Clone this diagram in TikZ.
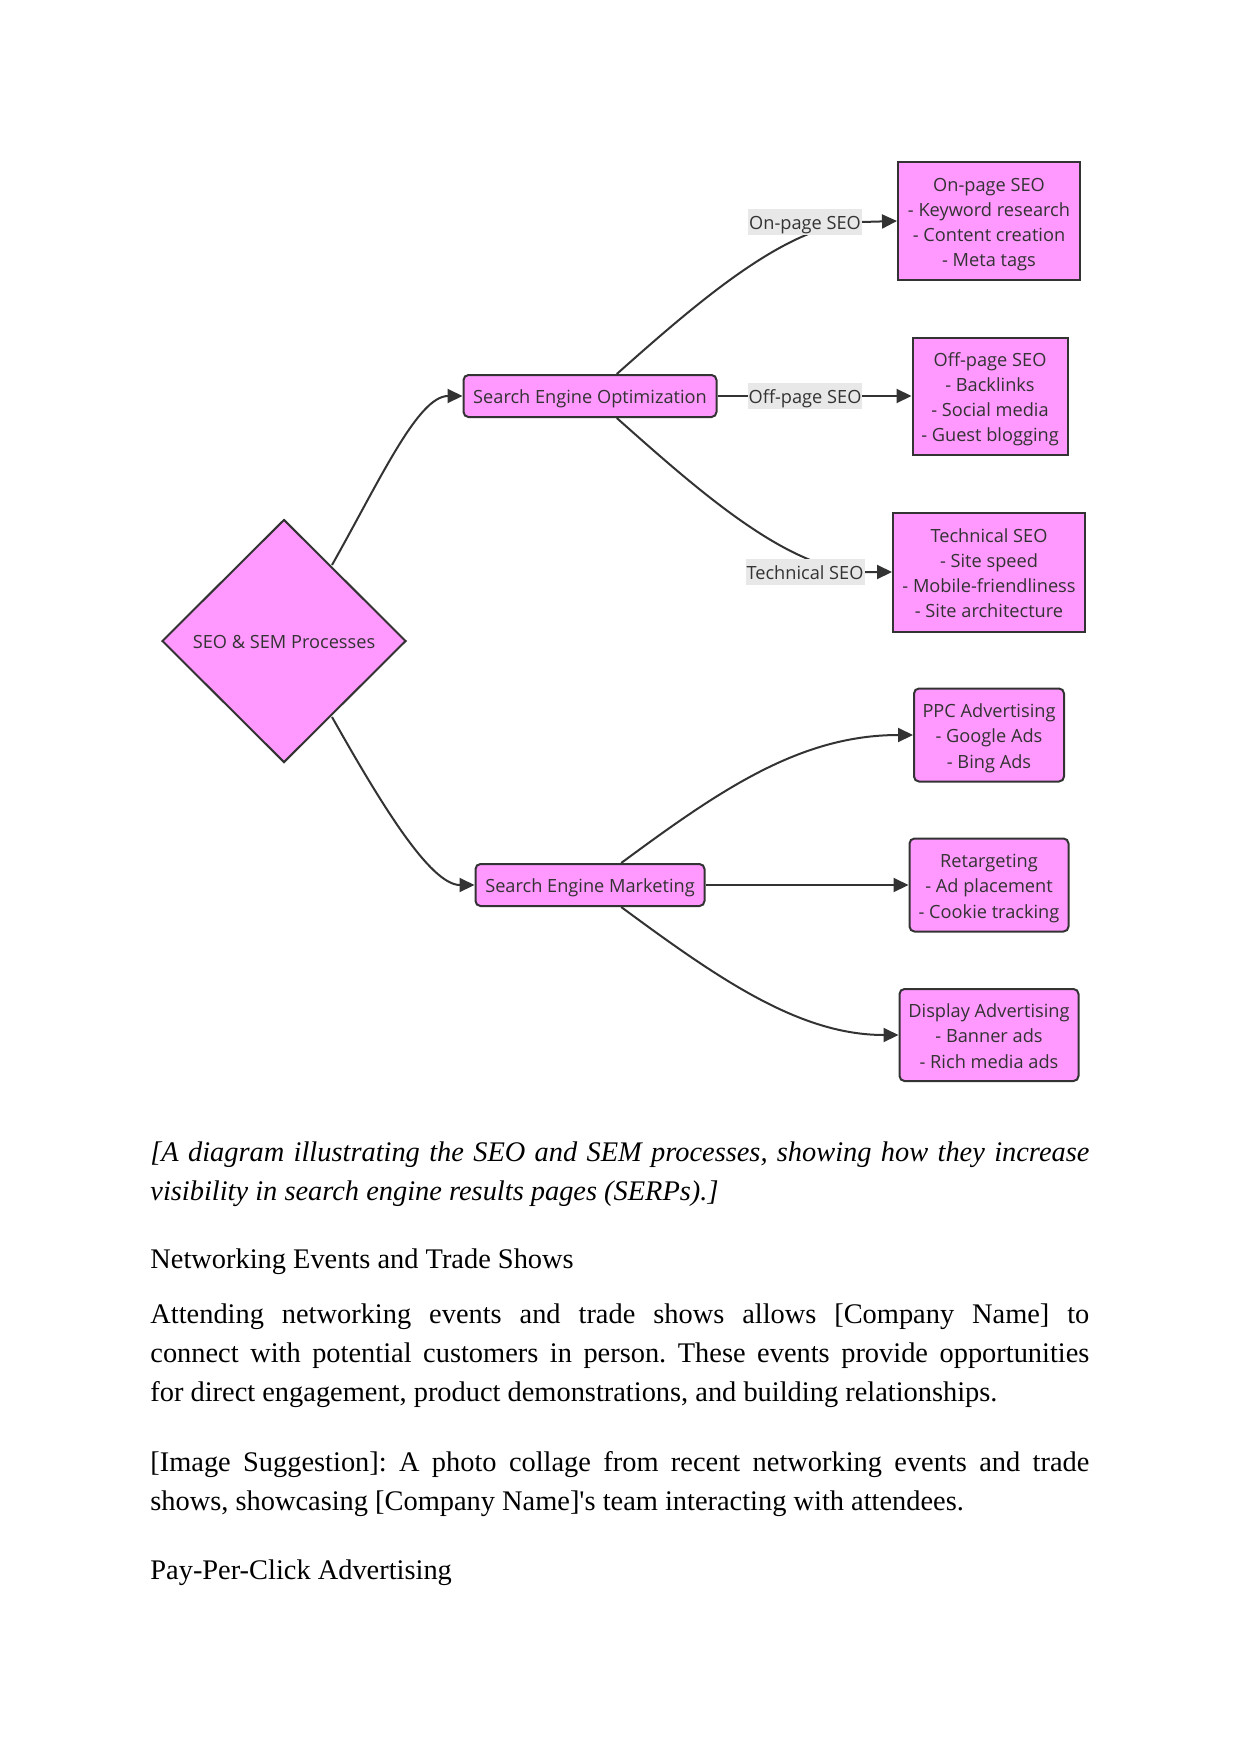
\documentclass[tikz,border=0pt]{standalone}
\usepackage{fontspec}
\setmainfont{Liberation Serif}
\newfontfamily\diafont{Open Sans}
\usetikzlibrary{shapes.geometric,arrows.meta,calc}
\definecolor{nodefill}{HTML}{FF99FF}
\definecolor{nodeline}{HTML}{333333}
\definecolor{labelbg}{HTML}{E8E8E8}
\pgfdeclarelayer{edges}
\pgfsetlayers{edges,main}
\frenchspacing
\newcommand{\jline}[1]{\makebox[469.5pt][s]{#1}}
\newcommand{\bt}[1]{\raisebox{-1.4pt}[\height][\depth]{\begin{tabular}{@{}c@{}}#1\end{tabular}}}
\begin{document}
\begin{tikzpicture}[x=0.5pt,y=-0.5pt,
  box/.style={draw=nodeline, line width=1pt, fill=nodefill, text=nodeline,
    font=\diafont\fontsize{9.1}{12.6}\selectfont, inner sep=0pt},
  rbox/.style={box, rounded corners=2.5pt},
  edge/.style={draw=nodeline, line width=1pt, -{Triangle[length=7.5pt,width=7pt]}},
  elabel/.style={fill=labelbg, text=nodeline, font=\diafont\fontsize{9.1}{12.6}\selectfont,
    inner xsep=0.5pt, inner ysep=0pt, minimum height=11.2pt},
  para/.style={anchor=base west, align=left, inner sep=0pt, text=black,
    font=\fontsize{14.2}{19.3}\selectfont}]
\useasboundingbox (0,0) rectangle (1242,1755);

% central diamond
\node[box, diamond, minimum width=122pt, minimum height=121.5pt] (root) at (284,641) {\bt{SEO \& SEM Processes}};

% second level
\node[rbox, minimum width=126.5pt, minimum height=21pt] (seo) at (590,396) {\bt{Search Engine Optimization}};
\node[rbox, minimum width=114.5pt, minimum height=21pt] (sem) at (590,885) {\bt{Search Engine Marketing}};

% SEO leaves
\node[box, minimum width=91pt, minimum height=59pt] (onpage) at (989,221) {\bt{On-page SEO\\- Keyword research\\- Content creation\\- Meta tags}};
\node[box, minimum width=77.5pt, minimum height=58.5pt] (offpage) at (990,396) {\bt{Off-page SEO\\- Backlinks\\- Social media\\- Guest blogging}};
\node[box, minimum width=96pt, minimum height=59.5pt] (tech) at (989,572) {\bt{Technical SEO\\- Site speed\\- Mobile-friendliness\\- Site architecture}};

% SEM leaves
\node[rbox, minimum width=75pt, minimum height=46.5pt] (ppc) at (989,735) {\bt{PPC Advertising\\- Google Ads\\- Bing Ads}};
\node[rbox, minimum width=79.5pt, minimum height=46.5pt] (retarget) at (989,885) {\bt{Retargeting\\- Ad placement\\- Cookie tracking}};
\node[rbox, minimum width=89.5pt, minimum height=46pt] (display) at (989,1035) {\bt{Display Advertising\\- Banner ads\\- Rich media ads}};

% edge labels
\node[elabel] (l1) at (805,222) {\bt{On-page SEO}};
\node[elabel] (l2) at (805,396) {\bt{Off-page SEO}};
\node[elabel] (l3) at (805,572) {\bt{Technical SEO}};

\begin{pgfonlayer}{edges}
\draw[edge] (332,565) .. controls (380,480) and (418,396) .. (seo.west);
\draw[edge] (332,717) .. controls (380,802) and (430,885) .. (sem.west);
\draw[edge] ($(seo.north)!0.21!(seo.north east)$) .. controls (700,300) and (790,222) .. (l1.east) -- (onpage.west);
\draw[edge] (seo.east) -- (offpage.west);
\draw[edge] ($(seo.south)!0.21!(seo.south east)$) .. controls (700,492) and (790,572) .. (l3.east) -- (tech.west);
\draw[edge] ($(sem.north)!0.27!(sem.north east)$) .. controls (720,790) and (800,735) .. (ppc.west);
\draw[edge] (sem.east) -- (retarget.west);
\draw[edge] ($(sem.south)!0.27!(sem.south east)$) .. controls (720,980) and (800,1035) .. (display.west);
\end{pgfonlayer}

% text below (anchor = baseline of the last line)
\node[para, font=\itshape\fontsize{14.2}{19.3}\selectfont] (cap) at (150,1200)
  {\jline{[A diagram illustrating the SEO and SEM processes, showing how they increase}\\
   visibility in search engine results pages (SERPs).]};
\node[para] (h1) at (150,1268) {Networking Events and Trade Shows};
\node[para] (p1) at (150,1401)
  {\jline{Attending networking events and trade shows allows [Company Name] to}\\
   \jline{connect with potential customers in person. These events provide opportunities}\\
   for direct engagement, product demonstrations, and building relationships.};
\node[para] (p2) at (150,1510)
  {\jline{[Image Suggestion]: A photo collage from recent networking events and trade}\\
   shows, showcasing [Company Name]\textquotesingle s team interacting with attendees.};
\node[para] (h2) at (150,1579) {Pay-Per-Click Advertising};
\end{tikzpicture}
\end{document}
